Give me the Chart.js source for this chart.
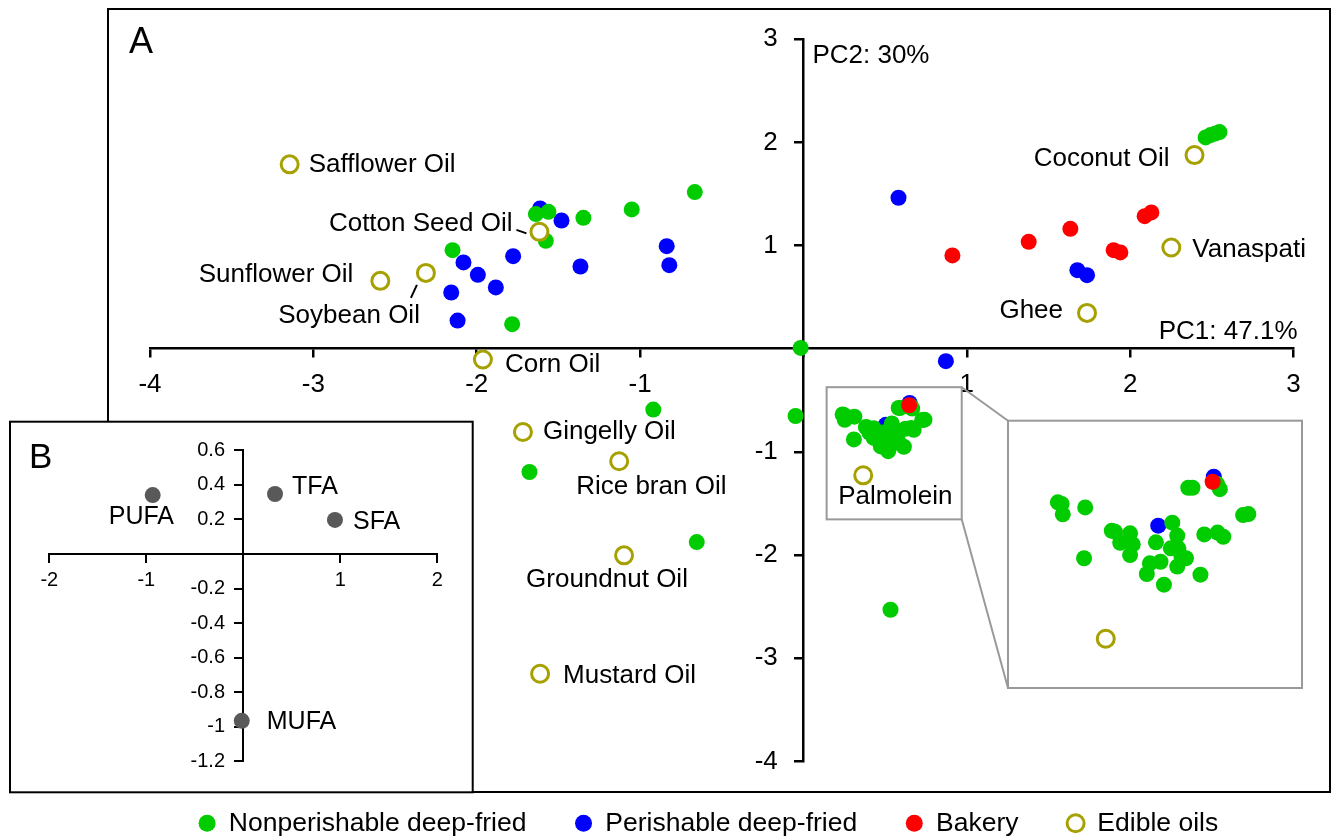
<!DOCTYPE html>
<html>
<head>
<meta charset="utf-8">
<title>PCA of fatty acid profiles</title>
<script src="https://cdn.jsdelivr.net/npm/chart.js@4/dist/chart.umd.min.js"></script>
<style>
  html, body { margin: 0; padding: 0; background: #fff; overflow: hidden; }
  #stage { position: relative; width: 1333px; height: 837px; }
  #stage canvas { position: absolute; left: 0; top: 0; }
  #frameA { position: absolute; left: 107px; top: 8px; width: 1224px; height: 785px;
            border: 2px solid #000; box-sizing: border-box; }
</style>
</head>
<body>
<div id="stage">
  <div id="frameA"></div>
  <canvas id="scoreChart" width="1333" height="837"></canvas>
  <canvas id="zoomChart" width="1333" height="837"></canvas>
  <canvas id="loadingChart" width="1333" height="837"></canvas>
</div>
<script>
// ---- PCA scores (PC1, PC2) ----
const nonperishable = [
  [-2.148, 0.955], [-1.783, 0.238], [-1.638, 1.305], [-1.561, 1.327], [-1.577, 1.046],
  [-1.347, 1.269], [-1.051, 1.350], [-0.665, 1.518], [-0.017, 0.008], [-0.919, -0.590],
  [-1.677, -1.195], [-0.653, -1.874], [-0.048, -0.652], [0.533, -2.530],
  [2.462, 2.048], [2.492, 2.071], [2.523, 2.087], [2.547, 2.100]
];
const nonperishableCluster = [
  [0.240, -0.637], [0.250, -0.644], [0.253, -0.689], [0.312, -0.659], [0.309, -0.879],
  [0.382, -0.760], [0.390, -0.764], [0.430, -0.771], [0.404, -0.812], [0.437, -0.819],
  [0.430, -0.865], [0.541, -0.725], [0.554, -0.781], [0.498, -0.810], [0.537, -0.836],
  [0.557, -0.836], [0.577, -0.879], [0.565, -0.872], [0.554, -0.915], [0.482, -0.901],
  [0.510, -0.894], [0.474, -0.947], [0.519, -0.993], [0.615, -0.950], [0.625, -0.776],
  [0.660, -0.768], [0.675, -0.786], [0.727, -0.692], [0.741, -0.688], [0.583, -0.574],
  [0.594, -0.574], [0.659, -0.558], [0.666, -0.580]
];
const perishable = [
  [-2.081, 0.836], [-1.993, 0.716], [-2.156, 0.545], [-1.883, 0.594], [-2.117, 0.273],
  [-1.777, 0.897], [-1.612, 1.360], [-1.481, 1.243], [-1.365, 0.797], [-0.837, 0.994],
  [-0.821, 0.810], [0.582, 1.463], [0.872, -0.121], [1.677, 0.761], [1.736, 0.713]
];
const perishableCluster = [[0.650, -0.526], [0.504, -0.738]];
const bakery = [
  [0.912, 0.904], [1.379, 1.036], [1.634, 1.162], [1.899, 0.955], [1.940, 0.933],
  [2.089, 1.285], [2.130, 1.321]
];
const bakeryCluster = [[0.647, -0.548]];

const oilNames = ['Safflower Oil', 'Cotton Seed Oil', 'Sunflower Oil', 'Soybean Oil', 'Corn Oil',
  'Gingelly Oil', 'Rice bran Oil', 'Groundnut Oil', 'Mustard Oil', 'Palmolein',
  'Coconut Oil', 'Vanaspati', 'Ghee'];
const oilPC1 = [-3.145, -1.616, -2.590, -2.311, -1.962, -1.717, -1.128, -1.098, -1.612, 0.366, 2.394, 2.252, 1.736];
const oilPC2 = [1.787, 1.133, 0.658, 0.735, -0.105, -0.807, -1.091, -2.003, -3.150, -1.227, 1.877, 0.981, 0.347];

const seriesNames = ['Nonperishable deep-fried', 'Perishable deep-fried', 'Bakery', 'Edible oils'];
const axisTitles = ['PC1: 47.1%', 'PC2: 30%'];

// ---- PCA loadings ----
const loadingNames = ['PUFA', 'TFA', 'SFA', 'MUFA'];
const loadingPC1 = [-0.934, 0.327, 0.945, -0.016];
const loadingPC2 = [0.341, 0.347, 0.197, -0.965];

// ---- styling ----
const FONT = "'Liberation Sans', Arial, Helvetica, sans-serif";
const GREEN = '#00cc00', BLUE = '#0000ff', RED = '#ff0000', OLIVE = '#a6a100';
const LOAD_GREY = '#595959', FRAME_GREY = '#999999';
const DOT_R = 8, RING_R = 8.5, RING_W = 3;

// region of the score plot that is enlarged, and the frame it is enlarged into
const zoomRegion = { xMin: 0.142, xMax: 0.969, yMin: -1.654, yMax: -0.373 };
const zoomFrame = { left: 1008, top: 420.7, right: 1302, bottom: 688 };
const zoomRange = { xMin: 0.109, xMax: 0.882, yMin: -1.44, yMax: -0.284 };

// text placement around each oil marker: pixel offset + alignment (+ optional leader line)
const oilLabelStyle = {
  'Safflower Oil':   { dx: 19, dy: 0, align: 'left' },
  'Cotton Seed Oil': { dx: -27, dy: -8, align: 'right', leader: [-23, -2, -13, 1.5] },
  'Sunflower Oil':   { dx: -27, dy: -6, align: 'right' },
  'Soybean Oil':     { dx: -6, dy: 43, align: 'right', leader: [-9, 12, -15, 25] },
  'Corn Oil':        { dx: 22, dy: 5, align: 'left' },
  'Gingelly Oil':    { dx: 20, dy: 0, align: 'left' },
  'Rice bran Oil':   { dx: -43, dy: 26, align: 'left' },
  'Groundnut Oil':   { dx: -98, dy: 24, align: 'left' },
  'Mustard Oil':     { dx: 23, dy: 2, align: 'left' },
  'Palmolein':       { dx: -25, dy: 22, align: 'left' },
  'Coconut Oil':     { dx: -25, dy: 4, align: 'right' },
  'Vanaspati':       { dx: 21, dy: 2, align: 'left' },
  'Ghee':            { dx: -24, dy: -2, align: 'right' }
};
const loadingLabelStyle = {
  PUFA: { dx: -44, dy: 22 }, TFA: { dx: 17, dy: -7 }, SFA: { dx: 18, dy: 2 }, MUFA: { dx: 25, dy: 1 }
};

const toPoints = arr => arr.map(([x, y]) => ({ x, y }));
const oilPoints = oilNames.map((n, i) => ({ x: oilPC1[i], y: oilPC2[i] }));

function scoreDatasets() {
  return [
    { label: seriesNames[0], data: toPoints(nonperishable.concat(nonperishableCluster)),
      backgroundColor: GREEN, borderColor: GREEN, pointRadius: DOT_R, pointBorderWidth: 0, order: 2 },
    { label: seriesNames[1], data: toPoints(perishable.concat(perishableCluster)),
      backgroundColor: BLUE, borderColor: BLUE, pointRadius: DOT_R, pointBorderWidth: 0, order: 3 },
    { label: seriesNames[2], data: toPoints(bakery.concat(bakeryCluster)),
      backgroundColor: RED, borderColor: RED, pointRadius: DOT_R, pointBorderWidth: 0, order: 1 },
    { label: seriesNames[3], data: oilPoints,
      backgroundColor: '#ffffff', borderColor: OLIVE, pointRadius: RING_R, pointBorderWidth: RING_W, order: 0 }
  ];
}

// y tick labels sit a fixed gap left of the vertical axis
function placeYLabels(gap) {
  return scale => {
    if (scale.$labelsPlaced) return;
    scale.$labelsPlaced = true;
    const compute = scale._computeLabelItems;
    scale._computeLabelItems = function (area) {
      const items = compute.call(this, area);
      const axisX = this.chart.scales.x.getPixelForValue(0);
      items.forEach(item => {
        item.options.translation[0] = axisX - gap;
        item.options.textAlign = 'right';
      });
      return items;
    };
  };
}

function crossedAxis(min, max, step, fontSize, labelPad, lineW, fmt) {
  return {
    type: 'linear', min, max,
    grid: { display: true, drawOnChartArea: false, drawTicks: true, tickLength: 8, color: '#000', lineWidth: lineW },
    border: { display: true, color: '#000', width: lineW },
    ticks: { stepSize: step, padding: labelPad, color: '#000', font: { family: FONT, size: fontSize },
             callback: v => (Math.abs(v) < 1e-9 ? '' : fmt(v)) }
  };
}

// ---- A: score plot ----
const scoreDecor = {
  id: 'scoreDecor',
  beforeDatasetsDraw(chart) {
    const { ctx, scales: { x, y } } = chart;
    const l = x.getPixelForValue(zoomRegion.xMin), r = x.getPixelForValue(zoomRegion.xMax);
    const t = y.getPixelForValue(zoomRegion.yMax), b = y.getPixelForValue(zoomRegion.yMin);
    ctx.save();
    ctx.strokeStyle = FRAME_GREY;
    ctx.lineWidth = 2;
    ctx.strokeRect(l, t, r - l, b - t);
    ctx.beginPath();
    ctx.moveTo(r, t); ctx.lineTo(zoomFrame.left, zoomFrame.top);
    ctx.moveTo(r, b); ctx.lineTo(zoomFrame.left, zoomFrame.bottom);
    ctx.stroke();
    ctx.restore();
  },
  afterDatasetsDraw(chart) {
    const { ctx, scales: { x, y } } = chart;
    ctx.save();
    ctx.fillStyle = '#000';
    ctx.strokeStyle = '#000';
    ctx.lineWidth = 2;
    ctx.font = `26px ${FONT}`;
    ctx.textBaseline = 'middle';
    oilNames.forEach((name, i) => {
      const s = oilLabelStyle[name];
      const px = x.getPixelForValue(oilPC1[i]), py = y.getPixelForValue(oilPC2[i]);
      ctx.textAlign = s.align;
      ctx.fillText(name, px + s.dx, py + s.dy);
      if (s.leader) {
        ctx.beginPath();
        ctx.moveTo(px + s.leader[0], py + s.leader[1]);
        ctx.lineTo(px + s.leader[2], py + s.leader[3]);
        ctx.stroke();
      }
    });
    ctx.textBaseline = 'alphabetic';
    const x0 = x.getPixelForValue(0), y0 = y.getPixelForValue(0);
    ctx.textAlign = 'left';
    ctx.fillText(axisTitles[1], x0 + 9, y.getPixelForValue(3) + 24);
    ctx.textAlign = 'right';
    ctx.fillText(axisTitles[0], x.getPixelForValue(3) + 4, y0 - 9.5);
    ctx.textAlign = 'left';
    ctx.font = `36px ${FONT}`;
    ctx.fillText('A', 129, 53);
    ctx.restore();
  }
};

const xScore = crossedAxis(-4, 3, 1, 26, 13, 2.5, v => String(v));
xScore.position = { y: 0 };
const yScore = crossedAxis(-4, 3, 1, 26, 0, 2.5, v => String(v));
yScore.position = { x: 0 };
yScore.afterUpdate = placeYLabels(25.6);

new Chart(document.getElementById('scoreChart'), {
  type: 'scatter',
  data: { datasets: scoreDatasets() },
  options: {
    responsive: false, animation: false, events: [],
    layout: { padding: { left: 150, right: 39.5, top: 39.2, bottom: -9.5 } },
    plugins: {
      tooltip: { enabled: false },
      legend: {
        position: 'bottom', align: 'start',
        labels: {
          usePointStyle: true, pointStyle: 'circle', boxWidth: 17, boxHeight: 12,
          padding: 48.6, color: '#000', font: { family: FONT, size: 26.5 },
          sort: (a, b) => a.datasetIndex - b.datasetIndex
        }
      }
    },
    scales: { x: xScore, y: yScore }
  },
  plugins: [scoreDecor]
});

// ---- enlarged view of the dense cluster ----
const zoomDecor = {
  id: 'zoomDecor',
  beforeDraw(chart) {
    const { ctx, chartArea: a } = chart;
    ctx.save();
    ctx.fillStyle = '#fff';
    ctx.fillRect(a.left, a.top, a.right - a.left, a.bottom - a.top);
    ctx.restore();
  },
  afterDraw(chart) {
    const { ctx, chartArea: a } = chart;
    ctx.save();
    ctx.strokeStyle = FRAME_GREY;
    ctx.lineWidth = 2;
    ctx.strokeRect(a.left, a.top, a.right - a.left, a.bottom - a.top);
    ctx.restore();
  }
};

new Chart(document.getElementById('zoomChart'), {
  type: 'scatter',
  data: { datasets: scoreDatasets() },
  options: {
    responsive: false, animation: false, events: [],
    layout: { padding: { left: zoomFrame.left, right: 1333 - zoomFrame.right,
                         top: zoomFrame.top, bottom: 837 - zoomFrame.bottom } },
    plugins: { legend: { display: false }, tooltip: { enabled: false } },
    scales: {
      x: { type: 'linear', min: zoomRange.xMin, max: zoomRange.xMax, display: false },
      y: { type: 'linear', min: zoomRange.yMin, max: zoomRange.yMax, display: false }
    }
  },
  plugins: [zoomDecor]
});

// ---- B: loading plot ----
const loadingDecor = {
  id: 'loadingDecor',
  beforeDraw(chart) {
    const { ctx } = chart;
    ctx.save();
    ctx.fillStyle = '#fff';
    ctx.fillRect(10, 421.7, 462.7, 370.6);
    ctx.strokeStyle = '#000';
    ctx.lineWidth = 2;
    ctx.strokeRect(10, 421.7, 462.7, 370.6);
    ctx.fillStyle = '#000';
    ctx.font = `35px ${FONT}`;
    ctx.textAlign = 'left';
    ctx.textBaseline = 'alphabetic';
    ctx.fillText('B', 29, 468);
    ctx.restore();
  },
  afterDatasetsDraw(chart) {
    const { ctx, scales: { x, y } } = chart;
    ctx.save();
    ctx.fillStyle = '#000';
    ctx.font = `25px ${FONT}`;
    ctx.textAlign = 'left';
    ctx.textBaseline = 'middle';
    loadingNames.forEach((name, i) => {
      const s = loadingLabelStyle[name];
      ctx.fillText(name, x.getPixelForValue(loadingPC1[i]) + s.dx, y.getPixelForValue(loadingPC2[i]) + s.dy);
    });
    ctx.restore();
  }
};

const xLoad = crossedAxis(-2, 2, 1, 20, 6, 2, v => String(v));
xLoad.position = { y: 0 };
const yLoad = crossedAxis(-1.2, 0.6, 0.2, 20, 0, 2, v => String(Number(v.toFixed(1))));
yLoad.position = { x: 0 };
yLoad.afterUpdate = placeYLabels(18.3);

new Chart(document.getElementById('loadingChart'), {
  type: 'scatter',
  data: {
    datasets: [{
      label: 'Loadings',
      data: loadingNames.map((n, i) => ({ x: loadingPC1[i], y: loadingPC2[i] })),
      backgroundColor: LOAD_GREY, borderColor: LOAD_GREY, pointRadius: DOT_R, pointBorderWidth: 0
    }]
  },
  options: {
    responsive: false, animation: false, events: [],
    layout: { padding: { left: 49.3, right: 1333 - 437.3, top: 450.3, bottom: 837 - 761.4 } },
    plugins: { legend: { display: false }, tooltip: { enabled: false } },
    scales: { x: xLoad, y: yLoad }
  },
  plugins: [loadingDecor]
});
</script>
</body>
</html>
